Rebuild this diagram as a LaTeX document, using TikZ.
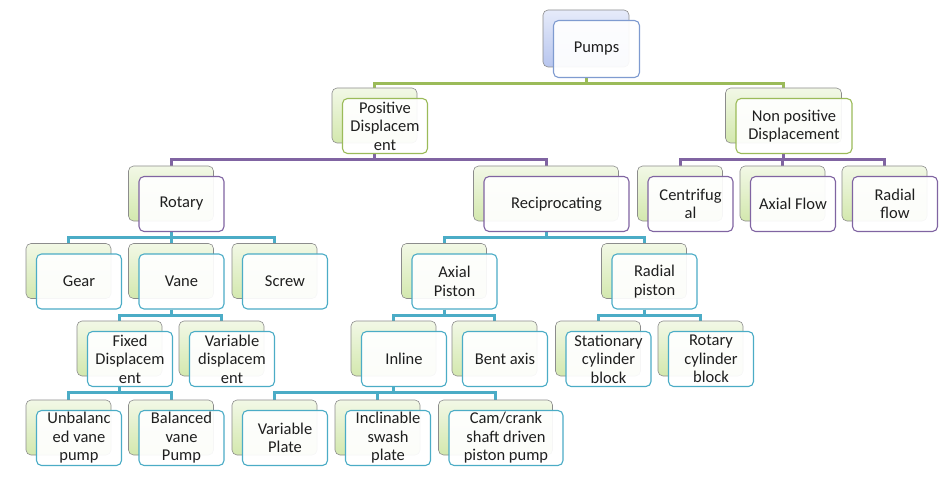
\documentclass[tikz,border=0pt]{standalone}
\usepackage{fontspec}
\setmainfont{Carlito}
\usetikzlibrary{calc}
\pgfdeclarelayer{background}
\pgfsetlayers{background,main}
\definecolor{cgreen}{HTML}{9BBB59}
\definecolor{cpurple}{HTML}{8064A2}
\definecolor{cteal}{HTML}{4BACC6}
\definecolor{cblue}{HTML}{7F9BD0}
\definecolor{bgtop}{HTML}{F2F8E6}
\definecolor{bgbot}{HTML}{D3E8AE}
\definecolor{bbtop}{HTML}{E6EBFA}
\definecolor{bbbot}{HTML}{B7C5EE}
\tikzset{
  backbox/.style={rounded corners=5pt, draw=black!45, line width=0.6pt, top color=bgtop, bottom color=bgbot, inner sep=0pt},
  backblue/.style={backbox, top color=bbtop, bottom color=bbbot},
  frontbox/.style={rounded corners=5pt, draw=#1, line width=1.1pt, fill=white, fill opacity=0.93, text opacity=1, align=center, inner sep=0pt, font=\fontsize{16.5}{18.5}\selectfont, text=black!88},
  conn/.style={draw=#1, line width=3pt},
}
\newcommand\pbox[8]{%
  \node[#6, minimum width=#4, minimum height=#5] (#1-bk) at (#2,#3) {};
  \node[frontbox=#7, minimum width=#4, minimum height=#5] (#1) at (#2+10.5,#3+10.5) {#8};
}
\newcommand\conns[3]{%
  \foreach \ch in {#3} {\draw[conn=#1] (#2-bk.center |- #2.south) -- ++(0,5.5) -| (\ch-bk.north);}
}
\begin{document}
\begin{tikzpicture}[x=1pt,y=-1pt]
\useasboundingbox (0,0) rectangle (948,484);
% level 0
\pbox{pumps}{586}{38.5}{86}{57}{backblue}{cblue}{Pumps}
% level 1
\pbox{posd}{374.5}{115.5}{85}{55}{backbox}{cgreen}{Positive\\Displacem\\ent}
\pbox{nonp}{783.5}{115.5}{116}{55}{backbox}{cgreen}{Non positive\\Displacement}
% level 2
\pbox{rotary}{171}{193.5}{85}{55}{backbox}{cpurple}{Rotary}
\pbox{recip}{546}{193.5}{145}{55}{backbox}{cpurple}{Reciprocating}
\pbox{centri}{680}{193.5}{85}{55}{backbox}{cpurple}{Centrifug\\al}
\pbox{axflow}{782.5}{193.5}{85}{55}{backbox}{cpurple}{Axial Flow}
\pbox{radflow}{884.5}{193.5}{85}{55}{backbox}{cpurple}{Radial\\flow}
% level 3
\pbox{gear}{68.5}{271}{85}{55}{backbox}{cteal}{Gear}
\pbox{vane}{171}{271}{85}{55}{backbox}{cteal}{Vane}
\pbox{screw}{274.5}{271}{85}{55}{backbox}{cteal}{Screw}
\pbox{axpist}{444}{271}{85}{55}{backbox}{cteal}{Axial\\Piston}
\pbox{radpist}{644}{271}{85}{55}{backbox}{cteal}{Radial\\piston}
% level 4
\pbox{fixed}{119.5}{348.5}{85}{55}{backbox}{cteal}{Fixed\\Displacem\\ent}
\pbox{vardisp}{221.5}{348.5}{85}{55}{backbox}{cteal}{Variable\\displacem\\ent}
\pbox{inline}{393.5}{348.5}{85}{55}{backbox}{cteal}{Inline}
\pbox{bent}{494.5}{348.5}{85}{55}{backbox}{cteal}{Bent axis}
\pbox{stat}{598}{348.5}{85}{55}{backbox}{cteal}{Stationary\\cylinder\\block}
\pbox{rotcyl}{700.5}{348.5}{85}{55}{backbox}{cteal}{Rotary\\cylinder\\block}
% level 5
\pbox{unbal}{68.5}{427.5}{85}{55}{backbox}{cteal}{Unbalanc\\ed vane\\pump}
\pbox{bal}{171}{427.5}{85}{55}{backbox}{cteal}{Balanced\\vane\\Pump}
\pbox{varplate}{274.5}{427.5}{85}{55}{backbox}{cteal}{Variable\\Plate}
\pbox{incl}{377.5}{427.5}{85}{55}{backbox}{cteal}{Inclinable\\swash\\plate}
\pbox{cam}{495.5}{427.5}{114}{55}{backbox}{cteal}{Cam/crank\\shaft driven\\piston pump}
% connectors
\begin{pgfonlayer}{background}
\conns{cgreen}{pumps}{posd,nonp}
\conns{cpurple}{posd}{rotary,recip}
\conns{cpurple}{nonp}{centri,axflow,radflow}
\conns{cteal}{rotary}{gear,vane,screw}
\conns{cteal}{recip}{axpist,radpist}
\conns{cteal}{vane}{fixed,vardisp}
\conns{cteal}{axpist}{inline,bent}
\conns{cteal}{radpist}{stat,rotcyl}
\conns{cteal}{fixed}{unbal,bal}
\conns{cteal}{inline}{varplate,incl,cam}
\end{pgfonlayer}
\end{tikzpicture}
\end{document}
